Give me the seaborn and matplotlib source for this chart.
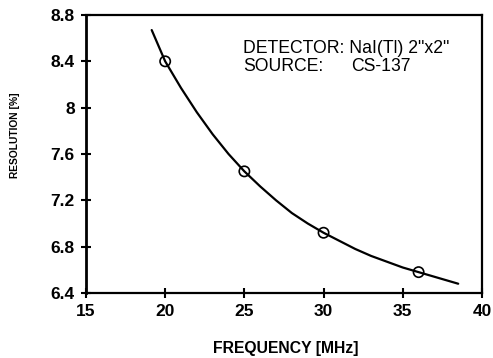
import matplotlib
matplotlib.use("Agg")
import matplotlib.pyplot as plt
import seaborn as sns

# measured points
freq_points = [20, 25, 30, 36]
res_points = [8.40, 7.45, 6.92, 6.58]

# fitted curve
curve_freq = [19.15, 20, 21, 22, 23, 24, 25, 26, 27, 28, 29, 30, 31, 32, 33, 34, 35, 36, 37, 38.5]
curve_res = [8.67, 8.40, 8.17, 7.96, 7.77, 7.60, 7.45, 7.32, 7.20, 7.09, 7.00, 6.92,
             6.85, 6.78, 6.72, 6.67, 6.62, 6.58, 6.54, 6.48]

x_ticks = [15, 20, 25, 30, 35, 40]
y_ticks = [6.4, 6.8, 7.2, 7.6, 8.0, 8.4, 8.8]
y_tick_labels = ["6.4", "6.8", "7.2", "7.6", "8", "8.4", "8.8"]

sns.set_style("white")
plt.rcParams['font.family'] = ['Liberation Sans', 'DejaVu Sans']
plt.rcParams['text.color'] = 'black'

fig = plt.figure(figsize=(4.93, 3.58), dpi=100)
ax = fig.add_axes([0.1744, 0.1816, 0.8032, 0.7765])

sns.lineplot(x=curve_freq, y=curve_res, ax=ax, color='black', linewidth=1.6,
             sort=False, estimator=None)
sns.scatterplot(x=freq_points, y=res_points, ax=ax, marker='o', s=55,
                facecolor='none', edgecolor='black', linewidth=1.2, zorder=3)

ax.set_xlim(15, 40)
ax.set_ylim(6.4, 8.8)
ax.set_xticks(x_ticks)
ax.set_xticklabels([str(t) for t in x_ticks])
ax.set_yticks(y_ticks)
ax.set_yticklabels(y_tick_labels)
ax.tick_params(direction='inout', length=7, width=1.5, pad=4.5, labelsize=12.5,
               colors='black', left=True, bottom=True)
for lab in ax.get_xticklabels() + ax.get_yticklabels():
    lab.set_fontweight('bold')
for sp in ax.spines.values():
    sp.set_visible(True)
    sp.set_color('black')
    sp.set_linewidth(1.6)
ax.spines['left'].set_linewidth(2.0)

ax.set_xlabel("")
ax.set_ylabel("")

ax.text(0.396, 0.863, 'DETECTOR: NaI(Tl) 2"x2"', transform=ax.transAxes,
        fontsize=12.7, va='baseline', ha='left', color='black')
ax.text(0.396, 0.799, 'SOURCE:', transform=ax.transAxes,
        fontsize=12.7, va='baseline', ha='left', color='black')
ax.text(0.669, 0.799, 'CS-137', transform=ax.transAxes,
        fontsize=12.7, va='baseline', ha='left', color='black')

fig.text(0.580, 0.014, "FREQUENCY [MHz]", fontsize=11.3, fontweight='bold',
         ha='center', va='baseline', color='black')
fig.text(0.030, 0.623, "RESOLUTION [%]", fontsize=7.4, fontweight='bold',
         ha='center', va='center', rotation=90, color='black')

fig.savefig("out.png", dpi=100)
